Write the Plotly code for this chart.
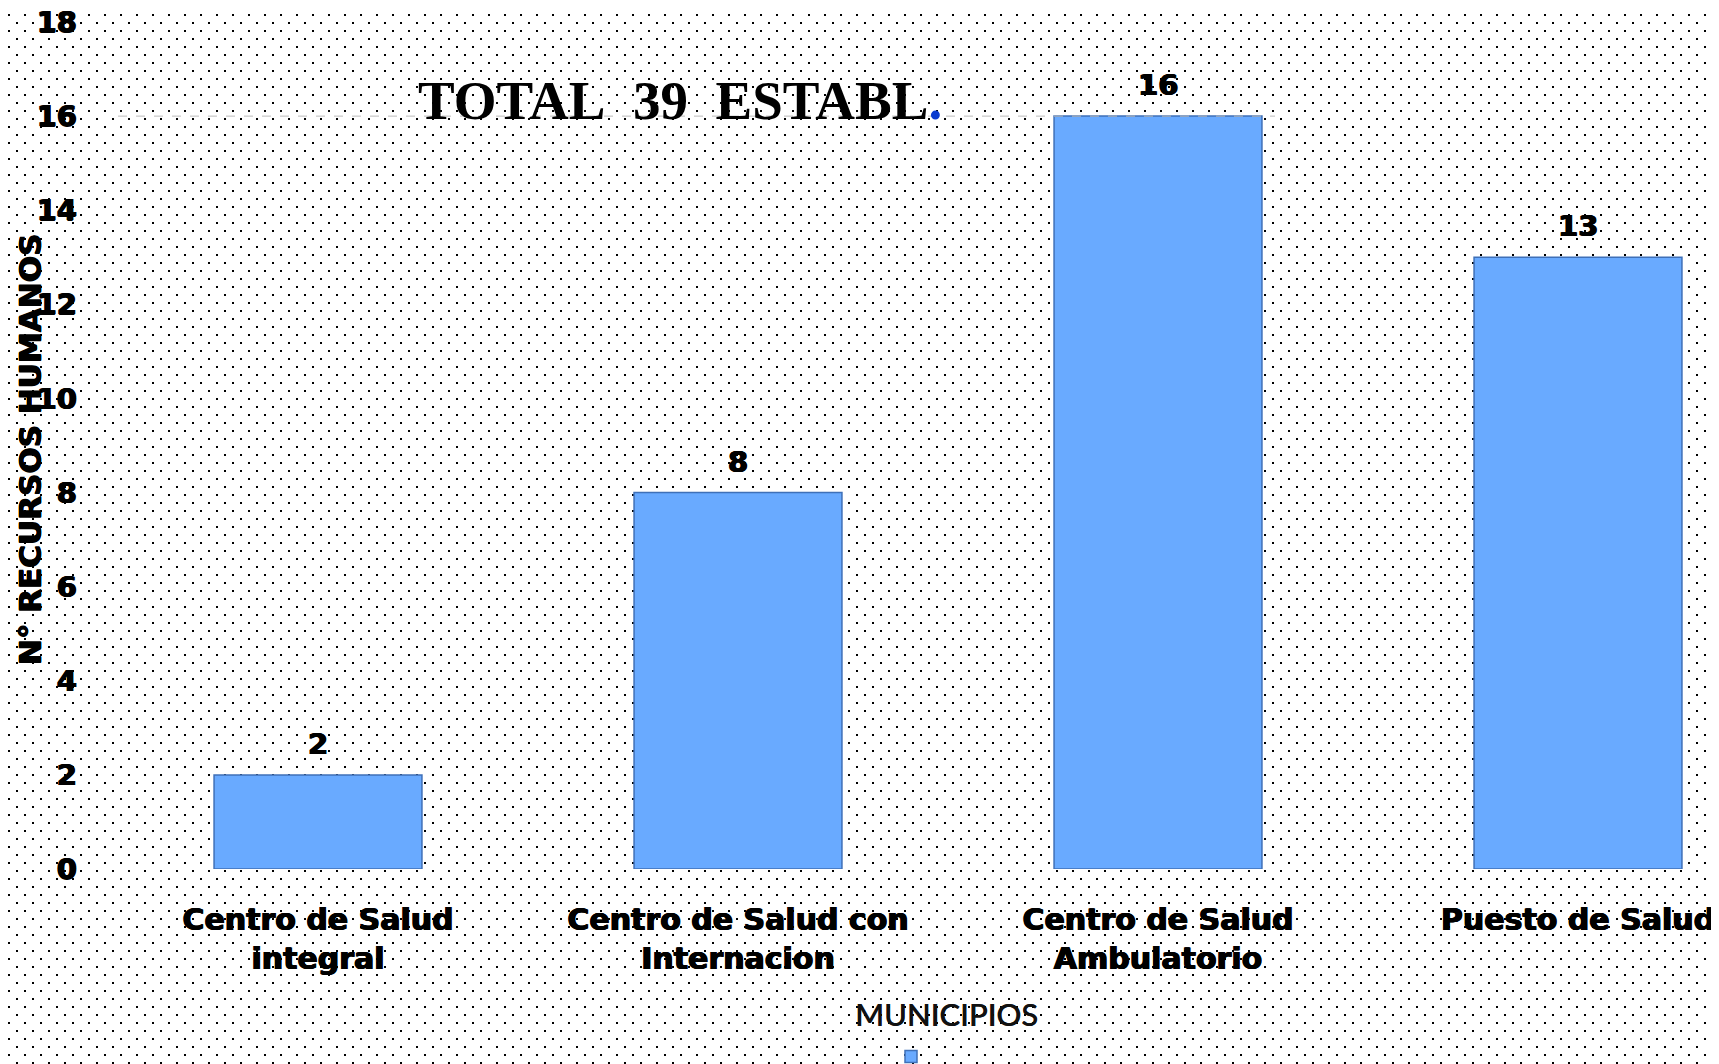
import base64
import plotly.graph_objects as go

# ---- data ----
categories = ["Centro de Salud<br>integral", "Centro de Salud con<br>Internacion",
              "Centro de Salud<br>Ambulatorio", "Puesto de Salud"]
values = [2, 8, 16, 13]
y_ticks = [0, 2, 4, 6, 8, 10, 12, 14, 16, 18]
title_text = "TOTAL\u00a0\u00a039\u00a0\u00a0ESTABL"
y_title = "N° RECURSOS HUMANOS"
x_title = "MUNICIPIOS"

# page is drawn with an 8px body margin, so the figure is 8px smaller
OFF = 8
W, H = 1719 - OFF, 1064 - OFF
ML, MR, MT, MB = 108 - OFF, 0, 22 - OFF, 195
PW, PH = W - ML - MR, H - MT - MB   # 1611 x 847

HEAVY = "'DejaVu Sans', 'Liberation Sans', sans-serif"
THICK = "0.7px 0 0 #000, -0.7px 0 0 #000, 0 0.4px 0 #000"

# dotted background pattern
svg = ("<svg xmlns='http://www.w3.org/2000/svg' width='%d' height='%d'>"
       "<defs><pattern id='p' width='16' height='16' patternUnits='userSpaceOnUse'>"
       "<rect x='0' y='6' width='2' height='2' fill='#000'/>"
       "<rect x='8' y='14' width='2' height='2' fill='#000'/>"
       "</pattern></defs><rect width='100%%' height='100%%' fill='url(#p)'/></svg>") % (W, H)
bg_uri = "data:image/svg+xml;base64," + base64.b64encode(svg.encode()).decode()

fig = go.Figure()
fig.add_trace(go.Bar(
    x=categories, y=values, name=" ",
    marker=dict(color="#69AAFF", line=dict(color="#3F70B8", width=1.5)),
    showlegend=True,
))

label_font = dict(family=HEAVY, size=29, color="#000", weight=700, shadow=THICK)
annotations = [
    dict(x=c, y=v, xref="x", yref="y", text=str(v), showarrow=False,
         xanchor="center", yanchor="bottom", yshift=12, font=label_font)
    for c, v in zip(categories, values)
]
annotations += [
    dict(text=title_text + "<span style='color:#0A3BD0'>.</span>", xref="paper", yref="paper",
         x=(680 - 108) / PW, y=(869 - 101) / PH, xanchor="center", yanchor="middle",
         showarrow=False, font=dict(family="'Liberation Serif', 'DejaVu Serif', serif",
                                     size=55, color="#000", weight=700)),
    dict(text=y_title, xref="paper", yref="paper", x=(30 - 108) / PW, y=(869 - 450) / PH,
         xanchor="center", yanchor="middle", textangle=-90, showarrow=False,
         font=dict(family=HEAVY, size=31, color="#000", weight=700, shadow=THICK)),
    dict(text=x_title, xref="paper", yref="paper", x=(947 - 108) / PW, y=(869 - 1014) / PH,
         xanchor="center", yanchor="middle", showarrow=False,
         font=dict(family="Lato, 'Noto Sans', sans-serif", size=31, color="#111", weight=500,
                   shadow="0.4px 0 0 #111")),
]

shapes = [dict(type="line", xref="paper", yref="y", x0=(118 - 108) / PW, x1=(1275 - 108) / PW,
               y0=y_ticks[8], y1=y_ticks[8], line=dict(color="#BBBBBB", width=1, dash="dash"))]
# faint reflection line under each bar
shapes += [dict(type="line", xref="x", yref="y", x0=i - 0.27, x1=i + 0.27, y0=-0.07, y1=-0.07,
                line=dict(color="#BBBBBB", width=2)) for i in range(len(values))]

band = PW / 420.0
fig.update_layout(
    width=W, height=H,
    margin=dict(l=ML, r=MR, t=MT, b=MB, autoexpand=False),
    paper_bgcolor="white", plot_bgcolor="rgba(0,0,0,0)",
    bargap=0.505,
    showlegend=True,
    legend=dict(x=(911 - 20 - 108) / PW, xanchor="left", y=(869 - 1042) / PH, yanchor="top",
                bgcolor="rgba(0,0,0,0)", font=dict(size=12), orientation="h"),
    xaxis=dict(range=[-0.5, -0.5 + band], showgrid=False, zeroline=False, showline=False,
               ticks="", tickfont=dict(family=HEAVY, size=30, color="#000", weight=700, shadow=THICK),
               ticklabelstandoff=30, ticklabeloverflow="allow"),
    yaxis=dict(range=[0, 18], tickvals=y_ticks, showgrid=False, zeroline=False, showline=False,
               ticks="", tickfont=dict(family=HEAVY, size=29, color="#000", weight=700, shadow=THICK),
               ticklabelstandoff=30, ticklabeloverflow="allow"),
    images=[dict(source=bg_uri, xref="paper", yref="paper",
                 x=-ML / PW, y=1 + MT / PH, sizex=W / PW, sizey=H / PH,
                 xanchor="left", yanchor="top", sizing="stretch", layer="below")],
    shapes=shapes,
    annotations=annotations,
)

fig.write_html("out.html")
